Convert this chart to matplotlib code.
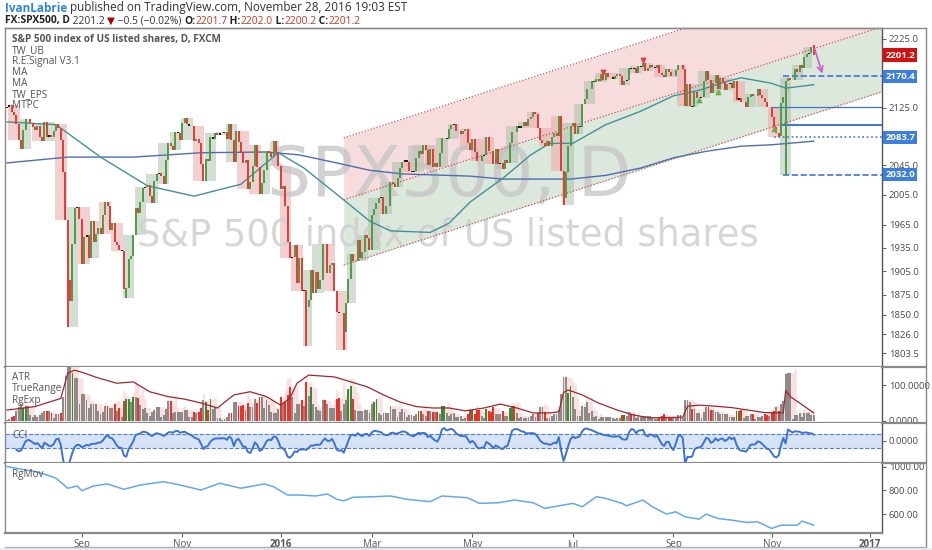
import matplotlib
matplotlib.use('Agg')
import numpy as np
import pandas as pd
import matplotlib.pyplot as plt
from matplotlib.ticker import FixedLocator, NullLocator, FuncFormatter
from matplotlib.patches import Rectangle

plt.rcParams['font.family'] = ['Open Sans', 'DejaVu Sans']

# ---------------- data ----------------
prev_close = 2124.3
closes = [
    # Jul 2015 (from 17th)
    2126.6, 2128.3, 2119.2, 2114.2, 2102.2, 2079.7, 2067.6, 2093.3, 2108.6, 2108.6, 2103.8,
    # Aug 2015
    2098.0, 2093.3, 2099.8, 2083.6, 2077.6, 2104.2, 2084.1, 2086.1, 2083.4, 2091.5, 2102.4,
    2096.9, 2079.6, 2035.7, 1970.9, 1893.2, 1867.6, 1940.5, 1987.7, 1988.9, 1972.2,
    # Sep 2015
    1913.9, 1948.9, 1951.1, 1921.2, 1969.4, 1942.0, 1952.3, 1961.1, 1953.0, 1978.1, 1995.3,
    1990.2, 1958.0, 1967.0, 1942.7, 1938.8, 1932.2, 1931.3, 1881.8, 1884.1, 1920.0,
    # Oct 2015
    1923.8, 1951.4, 1987.1, 1979.9, 1995.8, 2013.4, 2014.9, 2017.5, 2003.7, 1994.2, 2023.9,
    2033.1, 2033.7, 2030.8, 2018.9, 2052.5, 2075.2, 2071.2, 2065.9, 2090.4, 2089.4, 2079.4,
    # Nov 2015
    2104.1, 2109.8, 2102.3, 2099.9, 2099.2, 2078.6, 2081.7, 2075.0, 2046.0, 2023.0, 2053.2,
    2050.4, 2083.6, 2081.2, 2089.2, 2086.6, 2089.1, 2088.9, 2090.1, 2080.4,
    # Dec 2015
    2102.6, 2079.5, 2049.6, 2091.7, 2077.1, 2063.6, 2047.6, 2052.2, 2012.4, 2021.9, 2043.4,
    2073.1, 2041.9, 2005.6, 2021.2, 2039.0, 2064.3, 2061.0, 2056.5, 2078.4, 2063.4, 2043.9,
    # Jan 2016
    2012.7, 2016.7, 1990.3, 1943.1, 1922.0, 1923.7, 1938.7, 1890.3, 1921.8, 1880.3, 1881.3,
    1859.3, 1869.0, 1906.9, 1877.1, 1903.6, 1883.0, 1893.4, 1940.2,
    # Feb 2016
    1939.4, 1903.0, 1912.5, 1915.5, 1880.1, 1853.4, 1852.2, 1851.9, 1829.1, 1864.8, 1895.6,
    1926.8, 1917.8, 1917.8, 1945.5, 1921.3, 1929.8, 1951.7, 1948.1, 1932.2,
    # Mar 2016
    1978.4, 1986.5, 1993.4, 2000.0, 2001.8, 1979.3, 1989.3, 1989.6, 2022.2, 2019.6, 2015.9,
    2027.2, 2040.6, 2049.6, 2051.6, 2049.8, 2036.7, 2035.9, 2037.1, 2055.0, 2064.0, 2059.7,
    # Apr 2016
    2072.8, 2066.1, 2045.2, 2066.7, 2041.9, 2047.6, 2042.0, 2061.7, 2082.4, 2082.8, 2080.7,
    2094.3, 2100.8, 2102.4, 2091.5, 2091.6, 2087.8, 2091.7, 2095.2, 2075.8, 2065.3,
    # May 2016
    2081.4, 2063.4, 2051.1, 2050.6, 2057.1, 2058.7, 2084.4, 2064.5, 2064.1, 2046.6, 2066.7,
    2047.2, 2047.6, 2040.0, 2052.3, 2048.0, 2076.1, 2090.5, 2090.1, 2099.1, 2097.0,
    # Jun 2016
    2099.3, 2105.3, 2099.1, 2109.4, 2112.1, 2119.1, 2115.5, 2096.1, 2079.1, 2075.3, 2071.5,
    2078.0, 2071.2, 2083.3, 2088.9, 2085.5, 2113.3, 2037.4, 2000.5, 2036.1, 2070.8, 2098.9,
    # Jul 2016
    2103.0, 2088.6, 2099.7, 2097.9, 2129.9, 2137.2, 2152.1, 2152.4, 2163.8, 2161.7, 2166.9,
    2163.8, 2173.0, 2165.2, 2175.0, 2168.5, 2169.2, 2166.6, 2170.1, 2173.6,
    # Aug 2016
    2170.8, 2157.0, 2163.8, 2164.3, 2182.9, 2180.9, 2181.7, 2175.5, 2185.8, 2184.1, 2190.2,
    2178.2, 2182.2, 2187.0, 2183.9, 2182.6, 2186.9, 2175.4, 2172.5, 2169.0, 2180.4, 2176.1,
    2171.0,
    # Sep 2016
    2170.9, 2180.0, 2186.5, 2186.2, 2181.3, 2127.8, 2159.0, 2127.0, 2125.8, 2147.3, 2139.2,
    2139.1, 2139.8, 2163.1, 2177.2, 2164.7, 2146.1, 2159.9, 2171.4, 2151.1, 2168.3,
    # Oct 2016
    2161.2, 2150.5, 2159.7, 2160.8, 2153.7, 2163.7, 2136.7, 2139.2, 2132.6, 2133.0, 2126.5,
    2139.6, 2144.3, 2141.3, 2141.2, 2151.3, 2143.2, 2139.4, 2133.0, 2126.4, 2126.2,
    # Nov 2016
    2111.7, 2097.9, 2088.7, 2085.2, 2131.5, 2139.6, 2163.3, 2167.5, 2164.5, 2164.2, 2180.4,
    2176.9, 2187.1, 2181.9, 2198.2, 2202.9, 2204.7, 2213.4, 2201.2,
]

holidays = ['2015-09-07', '2015-11-26', '2015-12-25', '2016-01-01', '2016-01-18',
            '2016-02-15', '2016-03-25', '2016-05-30', '2016-07-04', '2016-09-05',
            '2016-11-24', '2016-12-26', '2017-01-02']

wick_lows = {'2015-08-24': 1835.0, '2015-09-29': 1871.0, '2016-01-20': 1812.0,
             '2016-02-11': 1807.0, '2016-06-27': 1991.0, '2016-11-04': 2083.7,
             '2016-11-09': 2032.0}
wick_highs = {'2016-11-28': 2216.0}

ma_fast_dates = ['2015-07-17', '2015-08-17', '2015-09-14', '2015-10-12', '2015-11-09',
                 '2015-12-08', '2015-12-31', '2016-01-19', '2016-02-05', '2016-02-11',
                 '2016-02-29', '2016-03-11', '2016-04-06', '2016-04-18', '2016-04-29',
                 '2016-05-19', '2016-06-07', '2016-06-17', '2016-07-01', '2016-07-22',
                 '2016-08-12', '2016-09-01', '2016-09-19', '2016-10-05', '2016-10-13',
                 '2016-11-01', '2016-11-09', '2016-11-28']
ma_fast_vals = [2105, 2101, 2056, 2017, 2003, 2019, 2062, 2041, 2008, 1998,
                1970, 1957, 1955, 1967, 1995, 2027, 2059, 2075, 2075, 2101,
                2120, 2142, 2150, 2163, 2168, 2160, 2153, 2158]

ma_slow_dates = ['2015-07-17', '2015-08-24', '2015-10-02', '2015-11-12', '2015-12-23',
                 '2016-01-14', '2016-02-08', '2016-02-29', '2016-03-18', '2016-04-29',
                 '2016-05-19', '2016-06-30', '2016-07-22', '2016-08-12', '2016-09-01',
                 '2016-09-22', '2016-10-13', '2016-11-01', '2016-11-28']
ma_slow_vals = [2048, 2056, 2056, 2062, 2063, 2059, 2048, 2038, 2033, 2030,
                2026, 2026, 2031, 2041, 2055, 2064, 2071, 2073, 2078]

atr_dates = ['2015-07-17', '2015-08-04', '2015-08-19', '2015-08-24', '2015-08-27',
             '2015-09-02', '2015-09-11', '2015-09-23', '2015-10-02', '2015-10-13',
             '2015-10-23', '2015-11-03', '2015-11-12', '2015-11-23', '2015-12-03',
             '2015-12-14', '2015-12-23', '2016-01-04', '2016-01-08', '2016-01-13',
             '2016-01-21', '2016-02-05', '2016-02-17', '2016-02-26', '2016-03-08',
             '2016-03-17', '2016-03-29', '2016-04-07', '2016-04-18', '2016-04-27',
             '2016-05-09', '2016-05-18', '2016-05-27', '2016-06-08', '2016-06-17',
             '2016-06-23', '2016-06-27', '2016-06-29', '2016-07-08', '2016-07-19',
             '2016-07-29', '2016-08-09', '2016-08-18', '2016-09-08', '2016-09-12',
             '2016-09-19', '2016-09-28', '2016-10-07', '2016-10-18', '2016-10-27',
             '2016-11-08', '2016-11-09', '2016-11-11', '2016-11-17', '2016-11-28']
atr_vals = [30, 40, 63, 135, 143, 135, 121, 106, 110, 82,
            68, 61, 50, 36, 73, 82, 68, 44, 64, 106,
            129, 124, 110, 96, 73, 53, 40, 36, 36, 28,
            36, 47, 36, 22, 22, 25, 80, 87, 73, 50,
            30, 16, 8, 10, 41, 44, 41, 37, 30, 23,
            22, 85, 68, 50, 22]

rgmov_dates = ['2015-07-17', '2015-07-27', '2015-08-04', '2015-08-11', '2015-08-17',
               '2015-08-24', '2015-08-28', '2015-09-01', '2015-09-09', '2015-09-17',
               '2015-09-28', '2015-10-07', '2015-10-21', '2015-10-30', '2015-11-12',
               '2015-11-24', '2015-12-08', '2015-12-22', '2015-12-29', '2016-01-07',
               '2016-01-14', '2016-01-26', '2016-02-02', '2016-02-08', '2016-02-11',
               '2016-02-18', '2016-03-02', '2016-03-11', '2016-03-22', '2016-04-06',
               '2016-04-13', '2016-04-28', '2016-05-05', '2016-05-17', '2016-05-26',
               '2016-06-08', '2016-06-15', '2016-06-27', '2016-07-01', '2016-07-08',
               '2016-07-18', '2016-07-22', '2016-08-02', '2016-08-04', '2016-08-15',
               '2016-08-19', '2016-08-29', '2016-09-02', '2016-09-09', '2016-09-19',
               '2016-09-22', '2016-09-29', '2016-10-07', '2016-10-17', '2016-10-24',
               '2016-11-01', '2016-11-07', '2016-11-16', '2016-11-18', '2016-11-28']
rgmov_vals = [1000, 978, 958, 930, 902, 818, 837, 797, 837, 854,
              809, 845, 873, 845, 803, 860, 818, 854, 831, 761,
              761, 753, 770, 725, 713, 742, 747, 753, 725, 705,
              753, 738, 691, 696, 719, 696, 649, 677, 691, 662,
              747, 733, 691, 671, 719, 662, 601, 620, 578, 559,
              601, 564, 550, 531, 536, 480, 508, 508, 542, 508]

channel_dates = ['2016-02-11', '2017-01-10']
channel_upper = [2082.5, 2338.0]
channel_mid = [1998.0, 2243.0]
channel_lower = [1912.8, 2147.6]

level_prices = [2170.4, 2126.0, 2101.0, 2083.7, 2032.0]
level_starts = ['2016-11-08', '2016-11-01', '2016-11-08', '2016-11-02', '2016-11-08']

tag_prices = [2201.2, 2170.4, 2083.7, 2032.0]
price_ticks = [1803.5, 1826.0, 1850.0, 1875.0, 1905.0, 1935.0, 1965.0, 2005.0, 2045.0, 2125.0, 2225.0]

buy_signals = ['2016-09-19', '2016-09-29', '2016-11-02']
sell_signals = ['2016-07-21', '2016-08-15']
arrow_target = ('2016-12-02', 2170.4)

month_ticks = ['2015-09-01', '2015-11-02', '2016-01-04', '2016-03-01', '2016-05-02',
               '2016-07-01', '2016-09-01', '2016-11-01', '2017-01-03']
month_labels = ['Sep', 'Nov', '2016', 'Mar', 'May', 'Jul', 'Sep', 'Nov', '2017']

# ---------------- calendar / derived series ----------------
cal = pd.bdate_range('2015-07-17', '2017-01-10')
cal = cal[~cal.isin(pd.to_datetime(holidays))]
n = len(closes)
dates = cal[:n]


def pos(d):
    return int(cal.searchsorted(pd.Timestamp(d)))


df = pd.DataFrame({'close': closes}, index=dates)
df['open'] = df['close'].shift(1).fillna(prev_close)
df['high'] = df[['open', 'close']].max(axis=1)
df['low'] = df[['open', 'close']].min(axis=1)
for d, v in wick_lows.items():
    df.loc[pd.Timestamp(d), 'low'] = min(v, df.loc[pd.Timestamp(d), 'low'])
for d, v in wick_highs.items():
    df.loc[pd.Timestamp(d), 'high'] = max(v, df.loc[pd.Timestamp(d), 'high'])
x = np.arange(n)

chg = (df['close'] - df['open']) / df['open']
bar_cols = np.where(chg.abs() < 0.0012, '#1a1a1a', np.where(chg > 0, '#4f9a44', '#e23b34'))

# true range over a 3-bar window, and a 5-bar range envelope (RgExp)
tr = df['high'].rolling(3, min_periods=1).max() - df['low'].rolling(3, min_periods=1).min()
tr_mean = tr.rolling(10, min_periods=1).mean()
ratio = tr / tr_mean
tr_cols = np.where((chg < 0) & (ratio > 1.0) & (ratio < 2.0), '#e8332b',
                   np.where((chg > 0) & (ratio > 1.4) & (ratio < 2.0), '#3a8a34', '#8e8a88'))
rg_exp = df['high'].rolling(5, min_periods=1).max() - df['low'].rolling(5, min_periods=1).min()

tp = (df['high'] + df['low'] + df['close']) / 3
sma = tp.rolling(20, min_periods=5).mean()
mad = tp.rolling(20, min_periods=5).apply(lambda a: np.mean(np.abs(a - a.mean())), raw=True)
cci = (tp - sma) / (0.015 * mad)

# ---------------- figure ----------------
W, H = 932, 550
fig = plt.figure(figsize=(W / 100, H / 100), dpi=100)
fig.patch.set_facecolor('white')


def px_axes(x0, y0, x1, y1):
    return fig.add_axes([x0 / W, 1 - y1 / H, (x1 - x0) / W, (y1 - y0) / H])


X0, X1 = 5, 882
ax = px_axes(X0, 28, X1, 367)
ax_atr = px_axes(X0, 367, X1, 423)
ax_cci = px_axes(X0, 423, X1, 463)
ax_rg = px_axes(X0, 463, X1, 533)
xlim = (-0.86, 374.2)

tick_col = '#4a4a4a'
for a in (ax, ax_atr, ax_cci, ax_rg):
    a.set_xlim(*xlim)
    a.yaxis.tick_right()
    a.tick_params(axis='y', which='both', length=3, width=0.8, color='#666',
                  labelsize=6.8, labelcolor=tick_col, pad=2)
    a.tick_params(axis='x', length=0, labelbottom=False)
    a.set_xticks([])
    for s in ('top', 'bottom', 'left', 'right'):
        a.spines[s].set_color('#8a8a8a')
        a.spines[s].set_linewidth(1.0)
    a.spines['right'].set_color('#555')
    a.spines['bottom'].set_linewidth(1.6)
    a.spines['top'].set_visible(False)
ax.spines['top'].set_visible(True)

# main price panel
ax.set_yscale('log')
ax.set_ylim(1786.7, 2241.4)
ax.yaxis.set_major_locator(FixedLocator(price_ticks))
ax.yaxis.set_minor_locator(NullLocator())
ax.yaxis.set_major_formatter(FuncFormatter(lambda v, _: f'{v:.1f}'))

cx = [pos(d) for d in channel_dates]
ax.fill_between(cx, channel_mid, channel_upper, color='#f6dcdc', lw=0, zorder=0.5)
ax.fill_between(cx, channel_lower, channel_mid, color='#dde8dc', lw=0, zorder=0.5)
for line in (channel_upper, channel_mid, channel_lower):
    ax.plot(cx, line, ls=(0, (1, 1.5)), color='#c05555', lw=0.9, zorder=2)

ax.text(0.506, 0.563, 'SPX500, D', transform=ax.transAxes, ha='center', va='center',
        fontsize=50, color='#c4c4c4', alpha=0.75, family='DejaVu Sans', zorder=1.5)
ax.text(0.505, 0.389, 'S&P 500 index of US listed shares', transform=ax.transAxes,
        ha='center', va='center', fontsize=26.5, color='#cfcfcf', alpha=0.85,
        family='DejaVu Sans', zorder=1.5)

# weekly range boxes
wk = pd.DataFrame({'i': x, 'open': df['open'].values, 'close': df['close'].values,
                   'high': df['high'].values, 'low': df['low'].values},
                  index=dates).groupby(dates.to_period('W-FRI'))
weeks = wk.agg(i0=('i', 'first'), i1=('i', 'last'), o=('open', 'first'),
               c=('close', 'last'), hi=('high', 'max'), lo=('low', 'min'))
for _, w in weeks.iterrows():
    col = '#e9a3a3' if w.c < w.o else '#a9bca9'
    ax.add_patch(Rectangle((w.i0 - 0.45, w.lo), w.i1 - w.i0 + 0.9, w.hi - w.lo,
                           facecolor=col, alpha=0.5, lw=0, zorder=1))

ax.plot([pos(d) for d in ma_slow_dates], ma_slow_vals, color='#4d6fb0', lw=1.0, zorder=2.2)
ax.plot([pos(d) for d in ma_fast_dates], ma_fast_vals, color='#43909a', lw=1.0, zorder=2.2)

ax.vlines(x, df['low'], df['high'], colors=bar_cols, lw=1.4, zorder=3)

level_styles = [('--', 1.2), ('-', 0.9), ('-', 1.4), (':', 1.2), ('--', 1.2)]
for p, s, (ls, lw) in zip(level_prices, level_starts, level_styles):
    ax.plot([pos(s), xlim[1]], [p, p], ls=ls, lw=lw, color='#3f74d6', zorder=2.5)

ax.scatter([pos(d) for d in buy_signals], [df.loc[pd.Timestamp(d), 'low'] * 0.9985 for d in buy_signals],
           marker='^', s=10, color='#6ab04c', zorder=4)
ax.scatter([pos(d) for d in sell_signals], [df.loc[pd.Timestamp(d), 'high'] * 1.0015 for d in sell_signals],
           marker='v', s=10, color='#e0403a', zorder=4)
ax.annotate('', xy=(pos(arrow_target[0]), arrow_target[1]), xytext=(n - 1, df['high'].iloc[-1] * 0.9995),
            arrowprops=dict(arrowstyle='->', color='#c95ccf', lw=1.2), zorder=4)

for p in tag_prices:
    fc = '#d40f0f' if p == tag_prices[0] else '#3d7fe0'
    ax.text(1.004, p, f'{p:.1f}', transform=ax.get_yaxis_transform(), ha='left', va='center',
            fontsize=6.8, fontweight='bold', color='white', clip_on=False, zorder=6,
            bbox=dict(boxstyle='square,pad=0.22', fc=fc, ec='none'))

# ATR / TrueRange / RgExp
ax_atr.set_ylim(-6.5, 152)
ax_atr.yaxis.set_major_locator(FixedLocator([0, 100]))
ax_atr.yaxis.set_major_formatter(FuncFormatter(lambda v, _: f'{v:.4f}'))
ax_atr.fill_between(x, 0, rg_exp, step='mid', color='#f4c4c4', alpha=0.5, lw=0, zorder=1)
ax_atr.bar(x, tr, width=0.8, color=tr_cols, zorder=2)
ax_atr.plot([pos(d) for d in atr_dates], atr_vals, color='#a1262e', lw=0.9, zorder=3)

# CCI
ax_cci.set_ylim(-330, 265)
ax_cci.yaxis.set_major_locator(FixedLocator([0]))
ax_cci.yaxis.set_major_formatter(FuncFormatter(lambda v, _: f'{v:.4f}'))
ax_cci.axhspan(-100, 100, color='#d7e4f8', lw=0, zorder=0.5)
for lvl in (-100, 100):
    ax_cci.axhline(lvl, ls='--', lw=0.8, color='#4f7fd6', zorder=1)
ax_cci.plot(x, cci, color='#3d72d3', lw=1.4, zorder=2)

# RgMov
ax_rg.set_ylim(442, 1030)
ax_rg.yaxis.set_major_locator(FixedLocator([600, 800, 1000]))
ax_rg.yaxis.set_major_formatter(FuncFormatter(lambda v, _: f'{v:.2f}'))
ax_rg.plot([pos(d) for d in rgmov_dates], rgmov_vals, color='#63a9eb', lw=1.1)

ax_rg.set_xticks([pos(d) for d in month_ticks])
ax_rg.set_xticklabels(month_labels)
ax_rg.tick_params(axis='x', length=3, color='#666', labelbottom=True, labelsize=7,
                  labelcolor='#555', pad=1.5)
for lab in ax_rg.get_xticklabels():
    if lab.get_text().isdigit():
        lab.set_fontweight('bold')

# ---------------- overlay: header, legends, frame ----------------
ov = fig.add_axes([0, 0, 1, 1])
ov.set_xlim(0, W)
ov.set_ylim(H, 0)
ov.axis('off')
ov.set_zorder(10)
renderer = fig.canvas.get_renderer()


def chain(x0, y0, parts, size):
    xx = x0
    for s, col, bold in parts:
        t = ov.text(xx, y0, s, color=col, fontsize=size, va='baseline',
                    fontweight='bold' if bold else 'normal')
        xx += t.get_window_extent(renderer).width


chain(5, 11.5, [('IvanLabrie', '#2f86d6', True),
                (' published on TradingView.com, November 28, 2016 19:03 EST', '#333333', False)], 8.5)
chain(5, 23.5, [('FX:SPX500, D', '#222222', True), (' 2201.2 ', '#333333', False),
                ('▼', '#b00000', False), (' \u22120.5 (\u22120.02%) ', '#333333', False),
                ('O:', '#222222', True), ('2201.7', '#c0392b', False),
                (' H:', '#222222', True), ('2202.0', '#c0392b', False),
                (' L:', '#222222', True), ('2200.2', '#c0392b', False),
                (' C:', '#222222', True), ('2201.2', '#c0392b', False)], 7.4)

legend_lines = ['S&P 500 index of US listed shares, D, FXCM', 'TW_UB', 'R.E.Signal V3.1',
                'MA', 'MA', 'TW_EPS', 'MTPC']
for k, s in enumerate(legend_lines):
    ov.text(12, 39.5 + 11 * k, s, fontsize=7.2, color='#555555', va='center',
            fontweight='bold' if k == 0 else 'normal')
for k, s in enumerate(['ATR', 'TrueRange', 'RgExp']):
    ov.text(12, 377 + 11.5 * k, s, fontsize=7.2, color='#555555', va='center')
ov.text(12, 435, 'CCI', fontsize=7.2, color='#555555', va='center')
ov.text(12, 475, 'RgMov', fontsize=7.2, color='#555555', va='center')

ov.plot([X0, 926], [28, 28], color='#8a8a8a', lw=1.0)
ov.plot([926, 926], [28, 547], color='#8a8a8a', lw=1.0)
ov.plot([X0, 926], [547, 547], color='#b0b0b0', lw=1.0)
for yy in (367, 423, 463):
    ov.plot([X1, 926], [yy, yy], color='#8a8a8a', lw=1.6)
ov.add_patch(Rectangle((0, 548), W, 2, facecolor='#e8edf2', lw=0))

fig.savefig('out.png', dpi=100)
